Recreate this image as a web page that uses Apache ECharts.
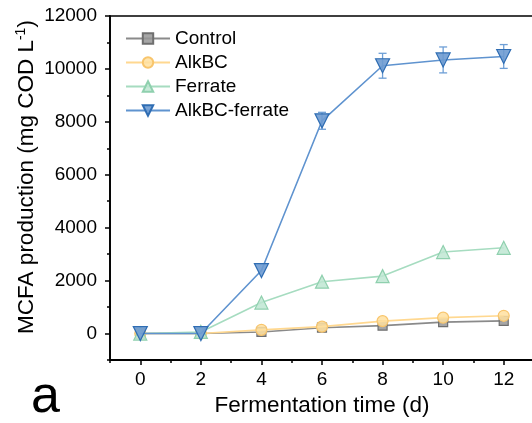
<!DOCTYPE html>
<html><head><meta charset="utf-8">
<script src="https://cdn.jsdelivr.net/npm/echarts@6/dist/echarts.min.js"></script>
<style>html,body{margin:0;padding:0;background:#fff}#c{width:532px;height:423px}</style>
</head><body><div id="c"></div>
<script>
const days = [0, 2, 4, 6, 8, 10, 12];
const control = [0, 0, 60, 220, 300, 430, 480];
const alkbc = [0, 0, 140, 260, 470, 600, 670];
const ferrate = [0, 60, 1170, 1960, 2170, 3080, 3240];
const alkbcFerrate = [0, 0, 2380, 8040, 10120, 10340, 10470];
const alkbcFerrateErr = [0, 0, 0, 320, 470, 490, 450];
const yTicks = [0, 2000, 4000, 6000, 8000, 10000, 12000];
const xTicks = [0, 2, 4, 6, 8, 10, 12];

const chart = echarts.init(document.getElementById('c'));
const font = 'Liberation Sans, Arial, sans-serif';
function pts(arr){ return days.map((d,i)=>[d, arr[i]]); }
function mk(name, arr, symbol, size, line, fill, border, rot, z){
  return {
    name, type:'line', data: pts(arr), symbol, symbolSize:size, symbolRotate: rot||0,
    xAxisIndex:0, yAxisIndex:0, z: z,
    lineStyle:{color:line, width:1.6},
    itemStyle:{color:fill, borderColor:border, borderWidth:1.2, opacity:1},
    emphasis:{disabled:true}, animation:false
  };
}
const plain = v => String(v);
chart.setOption({
  animation:false,
  grid:{left:110, top:16, right:-2, bottom:63, show:true, borderColor:'#000', borderWidth:1.5, outerBoundsMode:'none', containLabel:false},
  xAxis:[
    {type:'value', min:-1, max:13, interval:1,
     axisLine:{onZero:false, lineStyle:{color:'#000', width:1.8}},
     axisTick:{length:3, lineStyle:{color:'#000', width:1.5}},
     axisLabel:{customValues:xTicks, formatter:plain, color:'#000', fontSize:19, fontFamily:font, margin:10},
     splitLine:{show:false},
     name:'Fermentation time (d)', nameLocation:'middle', nameGap:34, nameMoveOverlap:false,
     nameTextStyle:{color:'#000', fontSize:22.5, fontFamily:font, verticalAlign:'top'}},
    {type:'value', min:-1, max:13, position:'bottom', gridIndex:0,
     axisLine:{show:false, onZero:false},
     axisTick:{customValues:xTicks, length:5, lineStyle:{color:'#000', width:1.5}},
     axisLabel:{show:false}, splitLine:{show:false}}
  ],
  yAxis:[
    {type:'value', min:-1000, max:12000, interval:1000,
     axisLine:{show:true, onZero:false, lineStyle:{color:'#000', width:1.8}},
     axisTick:{show:true, length:3, lineStyle:{color:'#000', width:1.5}},
     axisLabel:{customValues:yTicks, formatter:plain, color:'#000', fontSize:19, fontFamily:font, margin:13},
     splitLine:{show:false}},
    {type:'value', min:-1000, max:12000, position:'left',
     axisLine:{show:false, onZero:false},
     axisTick:{show:true, customValues:yTicks, length:5, lineStyle:{color:'#000', width:1.5}},
     axisLabel:{show:false}, splitLine:{show:false}}
  ],
  legend:{
    left:125, top:29, padding:0, orient:'vertical', itemWidth:44, itemHeight:13, itemGap:5,
    textStyle:{color:'#000', fontSize:19, fontFamily:font},
    data:['Control','AlkBC','Ferrate','AlkBC-ferrate']
  },
  graphic:[
    {type:'text', x:26, y:177, rotation:Math.PI/2,
     style:{text:'{a|MCFA production (mg COD L}{s|-1}{a|)}', align:'center', verticalAlign:'middle',
       rich:{a:{fontSize:22.5, fontFamily:font, fill:'#000', verticalAlign:'bottom', lineHeight:24},
             s:{fontSize:14, fontFamily:font, fill:'#000', verticalAlign:'top', lineHeight:24, padding:[0,0,9,0]}}}},
    {type:'text', x:31, y:398, style:{text:'a', fontSize:52, fontFamily:font, fill:'#000', align:'left', verticalAlign:'middle'}}
  ],
  series:[
    mk('Control', control, 'rect', 9, '#8a8a8a', 'rgba(150,150,150,0.85)', '#6f6f6f', 0, 2),
    mk('AlkBC', alkbc, 'circle', 11, '#ffd890', 'rgba(255,224,160,0.85)', '#f8c56c', 0, 3),
    mk('Ferrate', ferrate, 'triangle', 13, '#a6dcc0', 'rgba(190,230,210,0.85)', '#8fd0ae', 0, 4),
    mk('AlkBC-ferrate', alkbcFerrate, 'triangle', 14, '#5f93cf', 'rgba(110,155,210,0.9)', '#2f6db3', 180, 6),
    {type:'custom', name:'err', z:5, silent:true, animation:false,
     data: days.map((d,i)=>[d, alkbcFerrate[i], alkbcFerrateErr[i]]),
     renderItem:function(params, api){
       const x = api.value(0), y = api.value(1), e = api.value(2);
       if (!e) return null;
       const top = api.coord([x, y+e]), bot = api.coord([x, y-e]);
       const w = 4;
       const st = {stroke:'#6e9fd6', lineWidth:1.3};
       return {type:'group', children:[
         {type:'line', shape:{x1:top[0], y1:top[1], x2:bot[0], y2:bot[1]}, style:st},
         {type:'line', shape:{x1:top[0]-w, y1:top[1], x2:top[0]+w, y2:top[1]}, style:st},
         {type:'line', shape:{x1:bot[0]-w, y1:bot[1], x2:bot[0]+w, y2:bot[1]}, style:st}
       ]};
     }}
  ]
});
</script></body></html>
